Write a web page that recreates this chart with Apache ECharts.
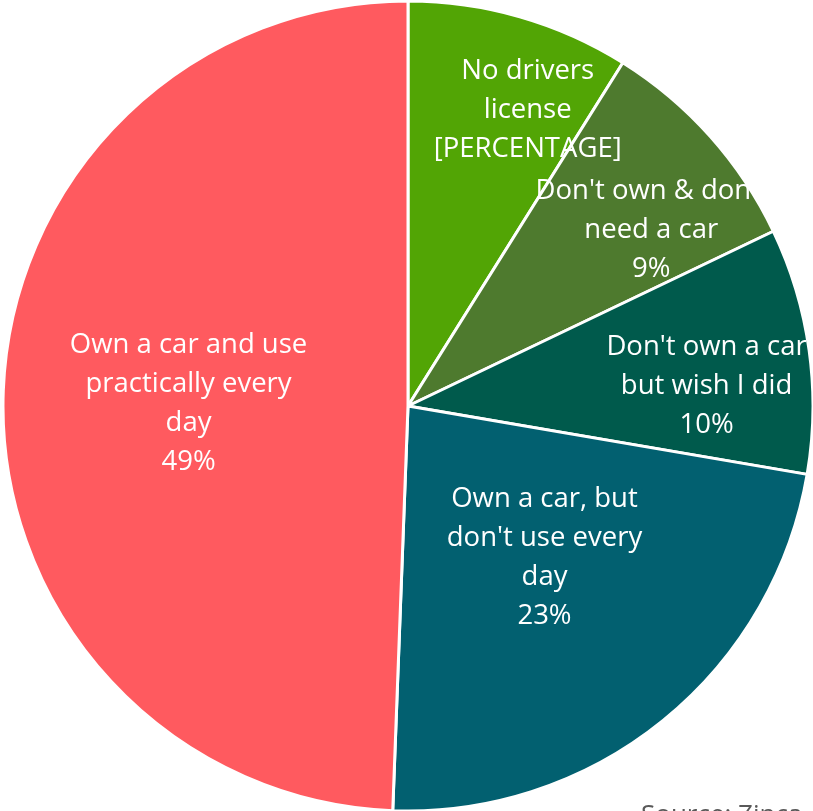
<!DOCTYPE html>
<html>
<head>
<meta charset="utf-8">
<script src="https://cdn.jsdelivr.net/npm/echarts@6/dist/echarts.min.js"></script>
<style>
html,body{margin:0;padding:0;background:#fff;}
#chart{width:813px;height:811px;}
</style>
</head>
<body>
<div id="chart"></div>
<script>
const categories = [
  "No drivers license",
  "Don't own & don't need a car",
  "Don't own a car but wish I did",
  "Own a car, but don't use every day",
  "Own a car and use practically every day"
];
const values = [8.9, 9.0, 9.8, 22.9, 49.4];
const labelLines = [
  ["No drivers", "license"],
  ["Don't own & don't", "need a car"],
  ["Don't own a car", "but wish I did"],
  ["Own a car, but", "don't use every", "day"],
  ["Own a car and use", "practically every", "day"]
];
const percentTexts = ["[PERCENTAGE]", null, null, null, null];
const colors = ["#52A505", "#4E7A2E", "#005A4C", "#026070", "#FF5A5F"];
const labelNudge = [[63, -98], [90, -39], [95, 8], [7, -8], [-14, 2]];
const sourceText = "Source: Zinca";

const chart = echarts.init(document.getElementById('chart'), null, {renderer: 'canvas'});
const CX = 408, CY = 406, R = 405;

chart.setOption({
  animation: false,
  backgroundColor: '#fff',
  series: [{
    type: 'pie',
    center: [CX, CY],
    radius: [0, R],
    startAngle: 90,
    clockwise: true,
    avoidLabelOverlap: false,
    silent: true,
    data: categories.map((c, i) => ({
      name: c, value: values[i],
      itemStyle: {color: colors[i]}
    })),
    itemStyle: {borderColor: '#fff', borderWidth: 3},
    label: {
      show: true,
      position: 'inside',
      color: '#fff',
      fontFamily: 'Open Sans',
      fontSize: 27.5,
      lineHeight: 39,
      align: 'center',
      textBorderWidth: 0,
      formatter: p => {
        const i = p.dataIndex;
        const pct = percentTexts[i] != null ? percentTexts[i] : Math.round(p.percent) + '%';
        return labelLines[i].concat([pct]).join('\n');
      }
    },
    labelLine: {show: false},
    labelLayout: p => ({dx: labelNudge[p.dataIndex][0], dy: labelNudge[p.dataIndex][1]})
  }],
  graphic: [
    {
      type: 'ring', z: 100,
      shape: {cx: CX, cy: CY, r0: R + 0.5, r: 900},
      style: {fill: '#fff'}, silent: true
    },
    {
      type: 'text', z: 101, left: 641, top: 803,
      style: {text: sourceText, font: '26px "Open Sans"', fill: '#595959'}
    }
  ]
});
</script>
</body>
</html>
